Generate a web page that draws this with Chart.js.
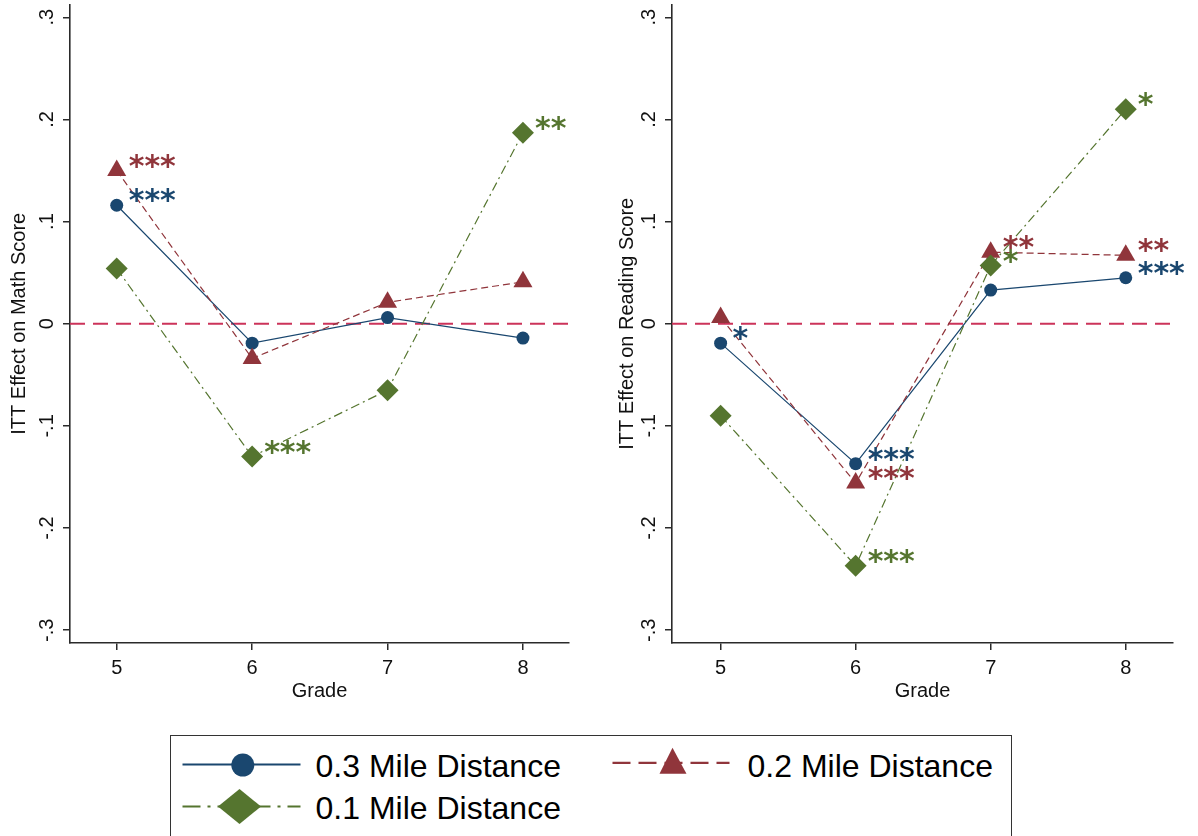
<!DOCTYPE html>
<html>
<head>
<meta charset="utf-8">
<script src="https://cdn.jsdelivr.net/npm/chart.js@4.4.1/dist/chart.umd.min.js"></script>
<style>
  html, body { margin: 0; padding: 0; background: #fff; }
  body { width: 1198px; height: 836px; overflow: hidden; position: relative;
         font-family: 'Liberation Sans', Arial, sans-serif; }
  #mathChart { position: absolute; left: 0; top: 0; }
  #readChart { position: absolute; left: 599px; top: 0; }
  #legend { position: absolute; left: 170px; top: 735px; width: 842px; height: 130px;
            border: 1.5px solid #333; box-sizing: border-box; }
  #legend svg { position: absolute; left: 0; top: 0; }
  #legend span { position: absolute; font-size: 32px; line-height: 32px; color: #000; white-space: nowrap; }
</style>
</head>
<body>
<canvas id="mathChart" width="599" height="705"></canvas>
<canvas id="readChart" width="599" height="705"></canvas>

<div id="legend">
  <svg width="840" height="130">
    <line x1="11.5" y1="28.5" x2="129.5" y2="28.5" stroke="#1a476f" stroke-width="2.2"/>
    <circle cx="71.8" cy="29" r="11.5" fill="#1a476f"/>
    <line x1="441.5" y1="26.8" x2="558.5" y2="26.8" stroke="#90353b" stroke-width="2.2" stroke-dasharray="18 8"/>
    <polygon points="501.5,11.8 488.5,37.8 515.5,37.8" fill="#90353b"/>
    <line x1="11.5" y1="70.5" x2="129.5" y2="70.5" stroke="#55752f" stroke-width="2.2" stroke-dasharray="18 7 3 7"/>
    <polygon points="68.5,53 90,70.5 68.5,88 47,70.5" fill="#55752f"/>
  </svg>
  <span id="leg03" style="left:144.5px; top:13.5px"></span>
  <span id="leg02" style="left:576.5px; top:13.5px"></span>
  <span id="leg01" style="left:144.5px; top:55.5px"></span>
</div>

<script>
// ---- data ----
const grades = [5, 6, 7, 8];
const seriesNames = ['0.3 Mile Distance', '0.2 Mile Distance', '0.1 Mile Distance'];
const yTickValues = [-0.3, -0.2, -0.1, 0, 0.1, 0.2, 0.3];
const yTickLabels = ['-.3', '-.2', '-.1', '0', '.1', '.2', '.3'];

// ITT effect on math score
const mathMile03 = [0.116, -0.019, 0.006, -0.014];
const mathMile02 = [0.150, -0.034, 0.021, 0.041];
const mathMile01 = [0.054, -0.130, -0.065, 0.187];
const mathStars03 = ['***', '', '', ''];
const mathStars02 = ['***', '', '', ''];
const mathStars01 = ['', '***', '', '**'];

// ITT effect on reading score
const readMile03 = [-0.019, -0.137, 0.033, 0.045];
const readMile02 = [0.006, -0.156, 0.070, 0.067];
const readMile01 = [-0.090, -0.237, 0.057, 0.210];
const readStars03 = ['*', '***', '', '***'];
const readStars02 = ['', '***', '**', '**'];
const readStars01 = ['', '***', '*', '*'];

// ---- style ----
const FONT = "'Liberation Sans', Arial, sans-serif";
const textColor = '#111';
const axisColor = '#2a2a2a';
const zeroColor = '#cc335a';
const colors = ['#1a476f', '#90353b', '#55752f'];
const dashes = [[], [7, 4], [9, 4, 2, 4]];
const pointStyles = ['circle', 'triangle', 'rectRot'];
const pointSizes = [6.5, 11, 11];

document.getElementById('leg03').textContent = seriesNames[0];
document.getElementById('leg02').textContent = seriesNames[1];
document.getElementById('leg01').textContent = seriesNames[2];

// dashed zero line, under the series
const zeroLine = {
  id: 'zeroLine',
  beforeDatasetsDraw(chart) {
    const { ctx, chartArea: a, scales: { y } } = chart;
    const py = y.getPixelForValue(0);
    ctx.save();
    ctx.strokeStyle = zeroColor;
    ctx.lineWidth = 2;
    ctx.setLineDash([15, 8]);
    ctx.beginPath(); ctx.moveTo(a.left, py); ctx.lineTo(a.right, py); ctx.stroke();
    ctx.restore();
  }
};

// significance stars right of the markers
const starLabels = {
  id: 'starLabels',
  afterDatasetsDraw(chart, args, opts) {
    const ctx = chart.ctx;
    chart.data.datasets.forEach((ds, di) => {
      const marks = opts.sets[di];
      chart.getDatasetMeta(di).data.forEach((pt, i) => {
        if (!marks[i]) return;
        ctx.save();
        ctx.fillStyle = ds.borderColor;
        ctx.font = 'bold 30px "DejaVu Sans"';
        ctx.textAlign = 'left';
        ctx.textBaseline = 'alphabetic';
        ctx.fillText(marks[i], pt.x + 12, pt.y + 5);
        ctx.restore();
      });
    });
  }
};

// rotated y tick labels (Stata style)
const rotatedYLabels = {
  id: 'rotatedYLabels',
  afterDraw(chart) {
    const { ctx, scales: { y } } = chart;
    yTickValues.forEach((v, i) => {
      const py = y.getPixelForValue(v);
      ctx.save();
      ctx.translate(y.right - 22.5, py);
      ctx.rotate(-Math.PI / 2);
      ctx.font = '20px ' + FONT;
      ctx.fillStyle = textColor;
      ctx.textAlign = 'center';
      ctx.textBaseline = 'middle';
      ctx.fillText(yTickLabels[i], 0, 0);
      ctx.restore();
    });
  }
};

function makePanel(id, yTitle, series, stars, o) {
  const datasets = series.map((vals, k) => ({
    label: seriesNames[k],
    data: grades.map((g, i) => ({ x: g, y: vals[i] })),
    borderColor: colors[k],
    backgroundColor: colors[k],
    borderWidth: 1.2,
    borderDash: dashes[k],
    tension: 0,
    pointStyle: pointStyles[k],
    pointRadius: pointSizes[k],
    pointBorderWidth: 0,
    pointBackgroundColor: colors[k],
    order: 2 - k
  }));

  return new Chart(document.getElementById(id), {
    type: 'line',
    data: { datasets },
    plugins: [zeroLine, starLabels, rotatedYLabels],
    options: {
      responsive: false,
      animation: false,
      layout: { autoPadding: false, padding: { left: 0, right: o.padRight, top: 4.5, bottom: 0 } },
      plugins: {
        legend: { display: false },
        tooltip: { enabled: false },
        starLabels: { sets: stars }
      },
      scales: {
        x: {
          type: 'linear',
          min: o.xMin, max: o.xMax,
          afterBuildTicks: s => { s.ticks = grades.map(v => ({ value: v })); },
          afterFit: s => { s.height = 62; },
          grid: { display: true, drawOnChartArea: false, drawTicks: true, tickLength: 7, color: axisColor, lineWidth: 1.5 },
          border: { display: true, color: axisColor, width: 1.6 },
          ticks: { color: textColor, font: { family: FONT, size: 20 }, padding: 6, maxRotation: 0 },
          title: { display: true, text: 'Grade', color: textColor, font: { family: FONT, size: 20 }, padding: { top: 0, bottom: 2 } }
        },
        y: {
          type: 'linear',
          min: -0.3125, max: 0.3125,
          afterBuildTicks: s => { s.ticks = yTickValues.map(v => ({ value: v })); },
          afterFit: s => { s.width = o.yWidth; s.paddingTop = 0; s.paddingBottom = 0; },
          grid: { display: true, drawOnChartArea: false, drawTicks: true, tickLength: 7, color: axisColor, lineWidth: 1.5 },
          border: { display: true, color: axisColor, width: 1.6 },
          ticks: { display: false },
          title: { display: true, text: yTitle, color: textColor, font: { family: FONT, size: 20 }, padding: { top: o.titlePad, bottom: 0 } }
        }
      }
    }
  });
}

makePanel('mathChart', 'ITT Effect on Math Score',
  [mathMile03, mathMile02, mathMile01],
  [mathStars03, mathStars02, mathStars01],
  { yWidth: 70, padRight: 30, xMin: 4.655, xMax: 8.34, titlePad: 7.5 });

makePanel('readChart', 'ITT Effect on Reading Score',
  [readMile03, readMile02, readMile01],
  [readStars03, readStars02, readStars01],
  { yWidth: 73, padRight: 25, xMin: 4.64, xMax: 8.35, titlePad: 16 });
</script>
</body>
</html>
